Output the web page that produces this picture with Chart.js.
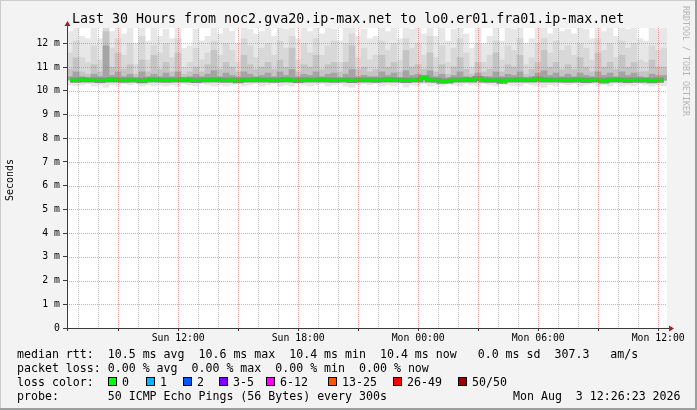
<!DOCTYPE html>
<html>
<head>
<meta charset="utf-8">
<script src="https://cdn.jsdelivr.net/npm/chart.js@4.4.1/dist/chart.umd.min.js"></script>
<style>
html, body { margin: 0; padding: 0; background: #f3f3f3; }
#wrap { position: relative; width: 697px; height: 410px; overflow: hidden; background: #f3f3f3;
        font-family: 'DejaVu Sans Mono', monospace; color: #000; }
#chart { position: absolute; left: 0; top: 0; }
.t { position: absolute; white-space: pre; }
.leg { font-size: 11.6px; line-height: 14px; left: 17px; }
.box { position: absolute; top: 377px; width: 7px; height: 7px; border: 1px solid #000; }
.shade { position: absolute; }
</style>
</head>
<body>
<div id="wrap">
  <canvas id="chart" width="697" height="410"></canvas>

  <div class="t" style="left:72px; top:11px; font-size:13.3px; line-height:16px;">Last 30 Hours from noc2.gva20.ip-max.net to lo0.er01.fra01.ip-max.net</div>
  <div class="t" style="left:10px; top:180px; font-size:10px; line-height:12px; transform:translate(-50%,-50%) rotate(-90deg);">Seconds</div>
  <div class="t" style="left:686px; top:61px; font-size:8.3px; line-height:10px; color:#b4b4b4; transform:translate(-50%,-50%) rotate(90deg);">RRDTOOL / TOBI OETIKER</div>

  <div class="t leg" style="top:347px;">median rtt:  10.5 ms avg  10.6 ms max  10.4 ms min  10.4 ms now   0.0 ms sd  307.3   am/s</div>
  <div class="t leg" style="top:361px;">packet loss: 0.00 % avg  0.00 % max  0.00 % min  0.00 % now</div>
  <div class="t leg" style="top:375px;">loss color:</div>
  <div id="lossLegend"></div>
  <div class="t leg" style="top:389px;">probe:       50 ICMP Echo Pings (56 Bytes) every 300s</div>
  <div class="t leg" style="top:389px; left:513px;">Mon Aug  3 12:26:23 2026</div>

  <div class="shade" style="left:0; top:0; width:697px; height:1px; background:#cbcbcb;"></div>
  <div class="shade" style="left:0; top:0; width:1px; height:410px; background:#cbcbcb;"></div>
  <div class="shade" style="left:695px; top:0; width:2px; height:410px; background:#9e9e9e;"></div>
  <div class="shade" style="left:0; top:408px; width:697px; height:2px; background:#9e9e9e;"></div>
</div>

<script>
// time window: Sun 06:26:23 .. Mon 12:26:23, in hours after Sun 00:00
const startHour = 6 + 26 / 60 + 23 / 3600;
const endHour = startHour + 30;
const stepHours = 0.3;

// smoke, in ms (one value per column)
const maxRtt = [
    12.5, 12.7, 12.3, 12.2, 12.7, 12.2, 12.7, 12.5, 12.7, 12.4, 12.7, 12.0, 12.7, 12.1, 12.7, 12.3, 12.6,
    12.2, 12.7, 11.8, 11.9, 12.6, 12.1, 12.3, 12.7, 12.4, 12.7, 12.5, 12.0, 12.7, 12.6, 12.4, 12.5, 12.7,
    12.3, 12.7, 12.6, 12.7, 12.2, 12.7, 12.5, 12.7, 12.4, 12.7, 12.6, 12.1, 12.7, 12.7, 12.3, 12.6,
    12.2, 12.3, 12.7, 12.5, 12.7, 12.2, 12.7, 12.6, 12.7, 12.4, 12.7, 12.3, 12.7, 12.1, 12.6, 12.7, 12.4,
    11.8, 12.7, 12.0, 12.3, 12.7, 12.1, 12.7, 12.6, 12.7, 12.0, 12.2, 12.7, 12.7, 12.4, 12.7, 12.5, 12.6,
    12.4, 12.7, 12.6, 12.2, 12.7, 12.5, 12.7, 12.3, 12.7, 12.6, 12.7, 12.2, 12.1, 12.7, 12.6, 12.7
];
const upperRtt = [
    11.6, 12.1, 11.4, 11.2, 11.9, 11.3, 12.7, 11.8, 12.2, 11.5, 12.0, 11.1, 12.3, 11.3, 11.9, 11.6, 12.0,
    11.4, 12.2, 11.0, 11.2, 11.8, 11.3, 11.6, 12.1, 11.5, 12.0, 11.7, 11.2, 12.2, 11.9, 11.4, 11.8, 12.0,
    11.5, 12.1, 11.8, 12.3, 11.3, 12.0, 11.6, 12.2, 11.5, 11.9, 12.1, 11.2, 12.0, 12.4, 11.4, 11.8,
    11.3, 11.5, 12.1, 11.7, 12.0, 11.3, 12.2, 11.8, 12.0, 11.5, 12.3, 11.4, 11.9, 11.2, 11.8, 12.2, 11.6,
    11.0, 12.0, 11.2, 11.5, 12.1, 11.3, 11.9, 11.7, 12.2, 11.1, 11.4, 12.0, 12.2, 11.6, 12.1, 11.7, 11.9,
    11.5, 12.0, 11.8, 11.3, 12.2, 11.7, 12.0, 11.4, 12.1, 11.8, 12.0, 11.3, 11.2, 11.9, 11.7, 11.8
];
const midRtt = [
    10.9, 11.4, 10.8, 10.7, 11.1, 10.8, 12.5, 11.0, 11.6, 10.9, 11.1, 10.7, 11.3, 10.8, 11.5, 10.9, 11.2,
    10.8, 11.6, 10.7, 10.8, 11.0, 10.8, 11.1, 11.7, 10.9, 11.2, 11.0, 10.8, 11.5, 11.1, 10.9, 11.0, 11.2,
    10.9, 11.3, 11.0, 11.8, 10.8, 11.1, 11.0, 11.5, 10.9, 11.1, 11.2, 10.8, 11.2, 11.9, 10.9, 11.0,
    10.8, 10.9, 11.5, 11.0, 11.2, 10.8, 11.7, 11.0, 11.1, 10.9, 11.6, 10.8, 11.1, 10.7, 11.0, 11.4, 10.9,
    10.7, 11.2, 10.8, 10.9, 11.6, 10.8, 11.1, 11.0, 11.5, 10.7, 10.9, 11.2, 11.7, 11.0, 11.2, 10.9, 11.1,
    10.9, 11.4, 11.0, 10.8, 11.6, 11.0, 11.2, 10.9, 11.5, 11.0, 11.2, 10.8, 10.8, 11.3, 11.0, 11.0
];
const coreRtt = [
    10.6, 10.8, 10.6, 10.55, 10.7, 10.6, 11.9, 10.65, 10.8, 10.6, 10.7, 10.55, 10.8, 10.6, 10.7, 10.6, 10.75,
    10.6, 10.8, 10.55, 10.6, 10.7, 10.6, 10.7, 10.85, 10.6, 10.75, 10.65, 10.6, 10.8, 10.7, 10.6, 10.65, 10.75,
    10.6, 10.8, 10.65, 10.9, 10.6, 10.7, 10.65, 10.8, 10.6, 10.7, 10.75, 10.55, 10.7, 10.9, 10.6, 10.65,
    10.6, 10.6, 10.8, 10.65, 10.75, 10.55, 10.85, 10.65, 10.7, 10.6, 10.85, 10.6, 10.7, 10.55, 10.65, 10.8, 10.6,
    10.55, 10.75, 10.6, 10.6, 10.8, 10.6, 10.7, 10.65, 10.8, 10.55, 10.6, 10.75, 10.85, 10.65, 10.75, 10.6, 10.7,
    10.6, 10.75, 10.65, 10.6, 10.8, 10.65, 10.75, 10.6, 10.8, 10.65, 10.75, 10.6, 10.55, 10.7, 10.65, 10.65
];
const minRtt = [
    10.25, 10.2, 10.25, 10.3, 10.2, 10.25, 10.15, 10.25, 10.2, 10.3, 10.25, 10.3, 10.2, 10.25, 10.2, 10.25, 10.2,
    10.25, 10.2, 10.3, 10.25, 10.2, 10.3, 10.25, 10.2, 10.25, 10.2, 10.25, 10.3, 10.2, 10.25, 10.3, 10.2, 10.25,
    10.3, 10.2, 10.25, 10.2, 10.3, 10.25, 10.2, 10.25, 10.3, 10.2, 10.25, 10.3, 10.2, 10.15, 10.25, 10.3,
    10.25, 10.3, 10.2, 10.25, 10.2, 10.3, 10.15, 10.25, 10.2, 10.3, 10.2, 10.25, 10.2, 10.3, 10.25, 10.2, 10.3,
    10.25, 10.2, 10.3, 10.25, 10.2, 10.3, 10.25, 10.2, 10.2, 10.3, 10.25, 10.2, 10.15, 10.25, 10.2, 10.3, 10.25,
    10.3, 10.2, 10.25, 10.3, 10.2, 10.25, 10.2, 10.3, 10.2, 10.25, 10.2, 10.3, 10.25, 10.2, 10.25, 10.2
];
const medianRtt = [
    10.46, 10.45, 10.47, 10.46, 10.46, 10.44, 10.46, 10.47, 10.46, 10.45, 10.46, 10.46, 10.43, 10.46, 10.47, 10.46, 10.45,
    10.46, 10.46, 10.47, 10.46, 10.44, 10.46, 10.46, 10.47, 10.46, 10.45, 10.46, 10.43, 10.46, 10.46, 10.47, 10.46, 10.46,
    10.45, 10.46, 10.47, 10.46, 10.44, 10.46, 10.46, 10.46, 10.47, 10.46, 10.45, 10.46, 10.46, 10.44, 10.46, 10.46,
    10.46, 10.45, 10.46, 10.47, 10.46, 10.46, 10.44, 10.46, 10.46, 10.55, 10.46, 10.45, 10.40, 10.41, 10.46, 10.46, 10.47,
    10.46, 10.52, 10.46, 10.45, 10.46, 10.40, 10.46, 10.46, 10.47, 10.46, 10.46, 10.50, 10.46, 10.46, 10.46, 10.46, 10.45,
    10.46, 10.47, 10.44, 10.46, 10.46, 10.42, 10.46, 10.47, 10.46, 10.44, 10.46, 10.45, 10.46, 10.43, 10.46, 10.45
];

// axis labels
const xLabelHours = [12, 18, 24, 30, 36];
const xLabelText = ['Sun 12:00', 'Sun 18:00', 'Mon 00:00', 'Mon 06:00', 'Mon 12:00'];
const yMax = 12.65;

// loss colour legend
const lossNames = ['0', '1', '2', '3-5', '6-12', '13-25', '26-49', '50/50'];
const lossColors = ['#00ff00', '#00b8ff', '#0059ff', '#7e00ff', '#ff00ff', '#ff5500', '#ff0000', '#a10000'];
const lossBoxX = [108, 146, 183, 219, 266, 328, 393, 458];

const legendEl = document.getElementById('lossLegend');
lossNames.forEach((name, i) => {
    const box = document.createElement('div');
    box.className = 'box';
    box.style.left = lossBoxX[i] + 'px';
    box.style.background = lossColors[i];
    legendEl.appendChild(box);
    const txt = document.createElement('div');
    txt.className = 't leg';
    txt.style.top = '375px';
    txt.style.left = (lossBoxX[i] + 14) + 'px';
    txt.textContent = name;
    legendEl.appendChild(txt);
});

const sampleHours = maxRtt.map((_, i) => startHour + (i + 0.5) * stepHours);

function smokeLayer(lo, hi, color, order) {
    return {
        type: 'bar',
        data: sampleHours.map((h, i) => ({ x: h, y: [lo[i], hi[i]] })),
        backgroundColor: color,
        borderWidth: 0,
        barPercentage: 1,
        categoryPercentage: 1,
        grouped: false,
        order: order
    };
}

function medianLine(color, width, order) {
    return {
        type: 'line',
        data: sampleHours.map((h, i) => ({ x: h, y: medianRtt[i] })),
        borderColor: color,
        borderWidth: width,
        pointRadius: 0,
        stepped: 'middle',
        order: order
    };
}

const gridRed = 'rgba(215, 70, 70, 0.5)';
const gridGray = 'rgba(128, 128, 128, 0.45)';

// rrd style dotted grid over the smoke, then axes with arrows
const rrdPlugin = {
    id: 'rrdAxes',
    beforeDraw(chart) {
        const { ctx, chartArea: a } = chart;
        ctx.save();
        ctx.fillStyle = '#ffffff';
        ctx.fillRect(a.left, a.top, a.right - a.left, a.bottom - a.top);
        ctx.restore();
    },
    afterDatasetsDraw(chart) {
        const { ctx, chartArea: a, scales } = chart;
        ctx.save();
        ctx.lineWidth = 1;
        ctx.setLineDash([1, 1]);
        scales.x.ticks.forEach((t) => {
            const px = Math.round(scales.x.getPixelForValue(t.value)) + 0.5;
            ctx.strokeStyle = t.value % 3 === 0 ? gridRed : gridGray;
            ctx.beginPath();
            ctx.moveTo(px, a.top);
            ctx.lineTo(px, a.bottom);
            ctx.stroke();
        });
        scales.y.ticks.forEach((t) => {
            const py = Math.round(scales.y.getPixelForValue(t.value)) + 0.5;
            ctx.strokeStyle = t.value % 1 === 0 ? gridRed : gridGray;
            ctx.beginPath();
            ctx.moveTo(a.left, py);
            ctx.lineTo(a.right, py);
            ctx.stroke();
        });
        ctx.restore();
    },
    afterDraw(chart) {
        const { ctx, chartArea: a } = chart;
        ctx.save();
        ctx.strokeStyle = '#3a3a3a';
        ctx.lineWidth = 1;
        ctx.beginPath();
        ctx.moveTo(a.left - 4, a.bottom + 0.5);
        ctx.lineTo(a.right + 2, a.bottom + 0.5);
        ctx.moveTo(a.left + 0.5, a.bottom + 3);
        ctx.lineTo(a.left + 0.5, a.top - 2);
        ctx.stroke();
        ctx.fillStyle = '#a02020';
        ctx.beginPath();
        ctx.moveTo(a.right + 7, a.bottom + 0.5);
        ctx.lineTo(a.right + 2, a.bottom - 2.5);
        ctx.lineTo(a.right + 2, a.bottom + 3.5);
        ctx.closePath();
        ctx.fill();
        ctx.beginPath();
        ctx.moveTo(a.left + 0.5, a.top - 7);
        ctx.lineTo(a.left - 2.5, a.top - 2);
        ctx.lineTo(a.left + 3.5, a.top - 2);
        ctx.closePath();
        ctx.fill();
        ctx.restore();
    }
};

const tickFont = { family: 'DejaVu Sans Mono', size: 9.8 };

new Chart(document.getElementById('chart'), {
    type: 'bar',
    data: {
        datasets: [
            medianLine('#00f000', 3, 0),
            medianLine('#8a8a8a', 5, 1),
            smokeLayer(medianRtt, coreRtt, '#a4a4a4', 2),
            smokeLayer(medianRtt, midRtt, '#c4c4c4', 3),
            smokeLayer(medianRtt, upperRtt, '#d8d8d8', 4),
            smokeLayer(minRtt, maxRtt, '#e7e7e7', 5)
        ]
    },
    options: {
        responsive: false,
        animation: false,
        devicePixelRatio: 1,
        layout: { padding: { left: 0, right: 30, top: 28, bottom: 60 } },
        plugins: {
            legend: { display: false },
            tooltip: { enabled: false },
            title: { display: false }
        },
        scales: {
            x: {
                type: 'linear',
                min: startHour,
                max: endHour,
                offset: false,
                afterBuildTicks: (scale) => {
                    const ticks = [];
                    for (let h = Math.ceil(startHour); h <= endHour; h++) ticks.push({ value: h });
                    scale.ticks = ticks;
                },
                afterFit: (scale) => {
                    scale.height = 22;
                    scale.paddingLeft = 0;
                    scale.paddingRight = 0;
                },
                grid: {
                    offset: false,
                    drawOnChartArea: false,
                    tickColor: (c) => (c.tick && c.tick.value % 3 === 0) ? '#3a3a3a' : 'rgba(0,0,0,0)',
                    tickLength: 3
                },
                border: { display: false },
                ticks: {
                    autoSkip: false,
                    maxRotation: 0,
                    padding: 2,
                    color: '#000',
                    font: tickFont,
                    callback: (v) => {
                        const k = xLabelHours.indexOf(v);
                        return k >= 0 ? xLabelText[k] : '';
                    }
                }
            },
            y: {
                type: 'linear',
                min: 0,
                max: yMax,
                afterBuildTicks: (scale) => {
                    const ticks = [];
                    for (let v = 0; v < yMax; v += 0.5) ticks.push({ value: v });
                    scale.ticks = ticks;
                },
                afterFit: (scale) => {
                    scale.width = 67;
                    scale.paddingTop = 0;
                    scale.paddingBottom = 0;
                },
                grid: {
                    drawOnChartArea: false,
                    tickColor: (c) => (c.tick && c.tick.value % 1 === 0) ? '#3a3a3a' : 'rgba(0,0,0,0)',
                    tickLength: 4
                },
                border: { display: false },
                ticks: {
                    padding: 3,
                    color: '#000',
                    font: tickFont,
                    callback: (v) => (v % 1 !== 0) ? '' : (v === 0 ? '0' : v + ' m')
                }
            }
        }
    },
    plugins: [rrdPlugin]
});
</script>
</body>
</html>
